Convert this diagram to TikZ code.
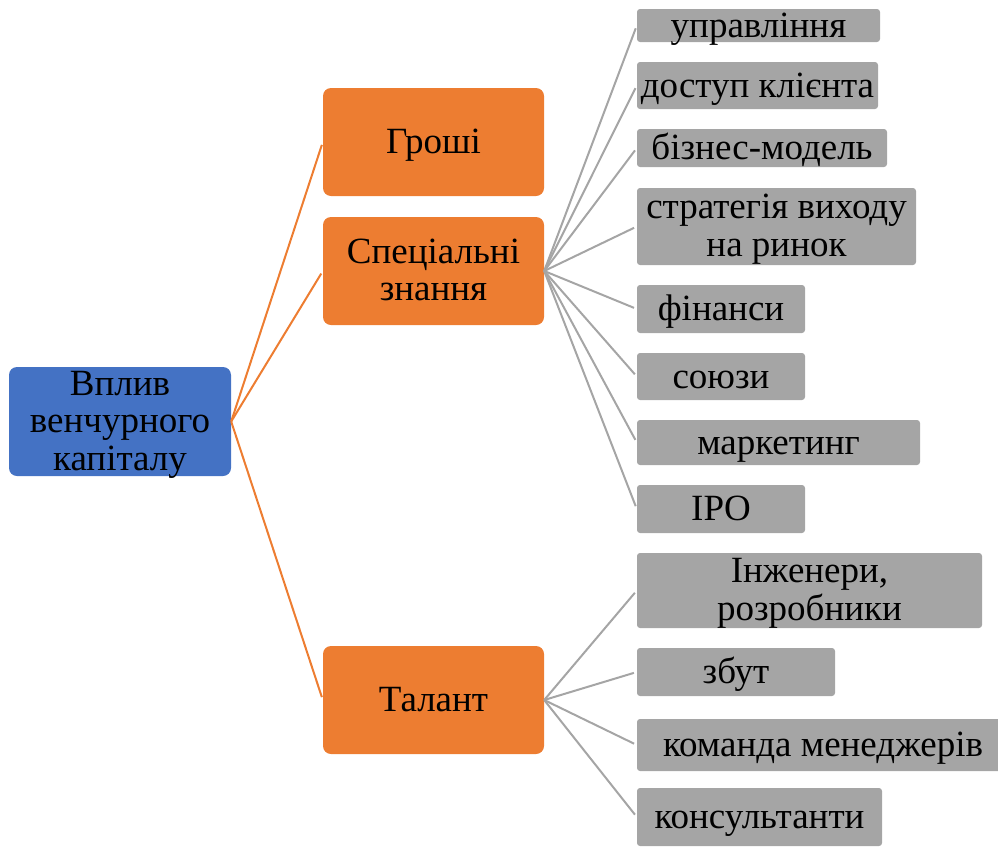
\documentclass[tikz,border=0pt]{standalone}
\usepackage{fontspec}
\setmainfont{Liberation Serif}
\definecolor{vcblue}{HTML}{4472C4}
\definecolor{vcorange}{HTML}{ED7D31}
\definecolor{vcgray}{HTML}{A5A5A5}
\newcommand{\boxfont}{\fontsize{37}{37.5}\selectfont}
\tikzset{
  oneline/.style={text height=26pt, text depth=3pt},
  twolines/.style={text height=62.5pt, text depth=3pt},
  threelines/.style={text height=100pt, text depth=3pt},
  rootbox/.style={fill=vcblue, rounded corners=8pt, align=center, inner sep=0pt,
    minimum width=222pt, minimum height=109pt, font=\boxfont},
  topicbox/.style={fill=vcorange, rounded corners=8pt, align=center, inner sep=0pt,
    minimum width=221pt, minimum height=108pt, font=\boxfont},
  itembox/.style={fill=vcgray, rounded corners=3pt, align=center, inner sep=0pt, font=\boxfont},
  mainlink/.style={draw=vcorange, line width=2pt, shorten >=3pt},
  sublink/.style={draw=vcgray, line width=2pt, shorten >=3pt},
}
\begin{document}
\begin{tikzpicture}[x=1pt, y=-1pt]
\useasboundingbox (0,0) rectangle (998,846);

			% Root and the three main topics
			\node[rootbox, threelines] (vplyv) at (120,421.5) {Вплив\\венчурного\\капіталу};
			\node[topicbox, oneline] (groshi) at (433.5,142) {Гроші};
			\node[topicbox, twolines] (znannia) at (433.5,271) {Спеціальні\\знання};
			\node[topicbox, oneline] (talant) at (433.5,700) {Талант};

			\foreach \topic in {groshi, znannia, talant} {
					\draw[mainlink] (vplyv.east) -- (\topic.west);
				}

			% Gray items on the right, each linked to its topic
			\foreach \name/\txt/\lines/\top/\bot/\right/\parent in {
					upr/управління/oneline/9/42/880/znannia,
					dostup/доступ клієнта/oneline/62/109/878/znannia,
					biznes/бізнес-модель/oneline/129/167/887/znannia,
					stratehiia/{стратегія виходу\\на ринок}/twolines/188/265/916/znannia,
					finansy/фінанси/oneline/285/333/805/znannia,
					soiuzy/союзи/oneline/353/400/805/znannia,
					marketynh/маркетинг/oneline/420/465/920/znannia,
					ipo/IPO/oneline/485/533/805/znannia,
					inzhenery/{Інженери,\\розробники}/twolines/553/628/982/talant,
					zbut/збут/oneline/648/696/835/talant,
					komanda/команда менеджерів/oneline/719/771/1009/talant,
					konsultanty/консультанти/oneline/788/846/882/talant} {
					\node[itembox, \lines, minimum width=\right-637, minimum height=\bot-\top] (\name)
						at ({(637+\right)/2},{(\top+\bot)/2}) {\txt};
					\draw[sublink] (\parent.east) -- (\name.west);
				}

		\end{tikzpicture}
\end{document}
